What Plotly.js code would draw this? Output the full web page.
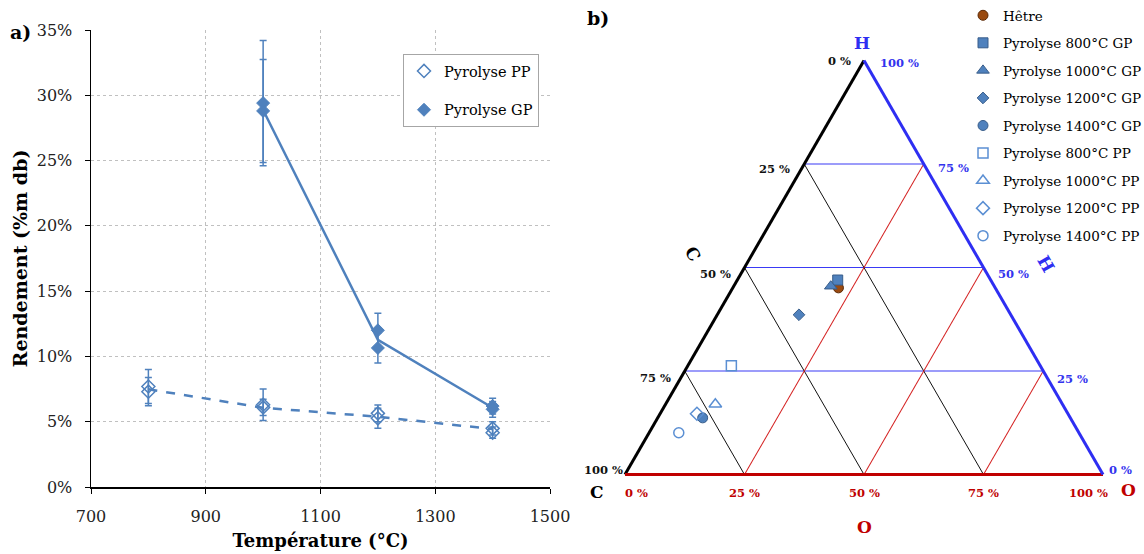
<!DOCTYPE html>
<html><head><meta charset="utf-8">
<script src="https://cdn.plot.ly/plotly-3.0.1.min.js"></script>
<style>html,body{margin:0;padding:0;background:#fff;overflow:hidden;width:1144px;height:554px}#chart{width:1144px;height:554px;overflow:hidden}</style>
</head><body><div id="chart"></div>
<script>
// ---------- Panel a) : yield vs temperature ----------
const temp_pp = [800, 1000, 1200, 1400];
const yield_pp_mean = [7.48, 6.07, 5.38, 4.44];
const temp_gp = [1000, 1200, 1400];
const yield_gp_mean = [28.87, 11.27, 6.07];

const temp_pp_rep = [800, 800, 1000, 1000, 1200, 1200, 1400, 1400];
const yield_pp_rep = [7.7, 7.3, 6.3, 6.1, 5.64, 5.26, 4.49, 4.16];
const err_pp_rep = [1.3, 1.08, 1.2, 0.62, 0.64, 0.77, 0.51, 0.43];

const temp_gp_rep = [1000, 1000, 1200, 1200, 1400, 1400];
const yield_gp_rep = [29.4, 28.8, 12.0, 10.65, 6.2, 5.95];
const err_gp_rep = [4.8, 3.95, 1.3, 1.15, 0.6, 0.6];

const xTicks = [700, 900, 1100, 1300, 1500];
const yTicks = [0, 5, 10, 15, 20, 25, 30, 35];
const yTickLabels = ['0%', '5%', '10%', '15%', '20%', '25%', '30%', '35%'];

// ---------- Panel b) : ternary C-H-O diagram (%) ----------
const samples = ['Hêtre', 'Pyrolyse 800°C GP', 'Pyrolyse 1000°C GP', 'Pyrolyse 1200°C GP', 'Pyrolyse 1400°C GP',
                 'Pyrolyse 800°C PP', 'Pyrolyse 1000°C PP', 'Pyrolyse 1200°C PP', 'Pyrolyse 1400°C PP'];
const H_pct = [45.1, 47.0, 45.5, 38.6, 13.7, 26.3, 17.0, 14.7, 10.1];
const C_pct = [32.8, 32.0, 34.2, 44.3, 76.9, 64.6, 72.6, 77.6, 83.7];
const O_pct = [22.1, 21.0, 20.3, 17.1, 9.4, 9.1, 10.4, 7.7, 6.2];
const ternTickVals = [0, 25, 50, 75, 100];
const ternTickText = ['0 %', '25 %', '50 %', '75 %', '100 %'];

// ---------- styles ----------
const BLUE = '#4F81BD';
const DARKBLUE = '#385D8A';
const OPENBLUE = '#5B8FD3';
const SERIF = 'DejaVu Serif';
const TBLUE = '#3333EE';
const TRED = '#C00000';
const symbols = ['circle', 'square', 'triangle-up', 'diamond', 'circle',
                 'square-open', 'triangle-up-open', 'diamond-open', 'circle-open'];
const fills = ['#9A4A10', BLUE, BLUE, BLUE, BLUE, OPENBLUE, OPENBLUE, OPENBLUE, OPENBLUE];
const outlines = ['#5C2A06', DARKBLUE, DARKBLUE, DARKBLUE, DARKBLUE, OPENBLUE, OPENBLUE, OPENBLUE, OPENBLUE];
const sizes = [10, 10, 11, 9, 10, 10, 11, 10, 10];

const traces = [];
traces.push({
  x: temp_pp, y: yield_pp_mean, mode: 'lines', type: 'scatter', showlegend: false,
  line: {color: BLUE, width: 2.5, dash: 'dash'}, hoverinfo: 'skip'
});
traces.push({
  x: temp_gp, y: yield_gp_mean, mode: 'lines', type: 'scatter', showlegend: false,
  line: {color: BLUE, width: 2.5}, hoverinfo: 'skip'
});
traces.push({
  x: temp_pp_rep, y: yield_pp_rep, mode: 'markers', type: 'scatter', name: 'Pyrolyse PP',
  legend: 'legend', legendgroup: 'pp',
  marker: {symbol: 'diamond-open', size: 10, color: BLUE, line: {width: 1.5, color: BLUE}},
  error_y: {type: 'data', array: err_pp_rep, visible: true, color: BLUE, thickness: 1.5, width: 3.5}
});
traces.push({
  x: temp_gp_rep, y: yield_gp_rep, mode: 'markers', type: 'scatter', name: 'Pyrolyse GP',
  legend: 'legend', legendgroup: 'gp',
  marker: {symbol: 'diamond', size: 10, color: BLUE, line: {width: 1, color: BLUE}},
  error_y: {type: 'data', array: err_gp_rep, visible: true, color: BLUE, thickness: 1.5, width: 3.5}
});

for (let i = 0; i < samples.length; i++) {
  const open = symbols[i].endsWith('-open');
  traces.push({
    type: 'scatterternary', mode: 'markers', name: samples[i],
    a: [H_pct[i]], b: [C_pct[i]], c: [O_pct[i]],
    subplot: 'ternary', legend: 'legend2', legendgroup: 'g' + i,
    cliponaxis: false,
    marker: {symbol: symbols[i], size: sizes[i], color: fills[i],
             line: {width: open ? 1.5 : 1, color: outlines[i]}}
  });
}

// ternary geometry (same numbers feed the ternary domain)
const W = 1144, HGT = 554;
const TRI_CX = 864, TRI_W = 478, TRI_DOMY = [0.127, 0.907];
const TRI_H = TRI_W * Math.sqrt(3) / 2;
const TRI_CY = HGT * (1 - (TRI_DOMY[0] + TRI_DOMY[1]) / 2);
const T_LEFT = TRI_CX - TRI_W / 2, T_RIGHT = TRI_CX + TRI_W / 2;
const T_BOTTOM = TRI_CY + TRI_H / 2;

const ternAxis = (lineColor, gridColor) => ({
  title: {text: ''},
  tickmode: 'array', tickvals: ternTickVals,
  ticks: '', showticklabels: false,
  showline: true, linecolor: lineColor, linewidth: 3,
  showgrid: true, gridcolor: gridColor, gridwidth: 1,
  min: 0, layer: 'below traces'
});

const ann = (text, px, py, size, color, angle, xanchor) => ({
  text: text, x: px / W, y: 1 - py / HGT, xref: 'paper', yref: 'paper',
  xanchor: xanchor || 'center', yanchor: 'middle', showarrow: false, textangle: angle || 0,
  font: {family: SERIF, size: size, color: color}
});

const annotations = [
  ann('<b>a)</b>', 20, 32, 19, '#000'),
  ann('<b>b)</b>', 598, 18, 19, '#000'),
  ann('<b>H</b>', 862, 43, 17, '#2E2EF2'),
  ann('<b>C</b>', 597, 492, 17, '#000'),
  ann('<b>O</b>', 1128, 490, 17, TRED),
  ann('<b>O</b>', 864, 527, 17, TRED),
  ann('<b>C</b>', 693, 254, 17, '#000', 60),
  ann('<b>H</b>', 1046, 264, 17, '#2E2EF2', 60)
];

// ternary tick labels, placed along the edges as in the original figure
const leftDx = [-11, -12, -12, -12, 0], leftDy = [0, 5, 6, 7, -5];
const rightDx = [3.5, 12, 12.5, 12.7, 13.5], rightDy = [-5, 8, 6, 4, 2];
const botDx = [11, 0, 0, 0, -15];
for (let k = 0; k < ternTickVals.length; k++) {
  const v = ternTickVals[k] / 100;
  // left edge: C value, H = 1 - C
  const hL = 1 - v;
  annotations.push(ann('<b>' + ternTickText[k] + '</b>', T_LEFT + TRI_W / 2 * hL + leftDx[k],
                       T_BOTTOM - TRI_H * hL + leftDy[k], 11.5, '#111', 0, 'right'));
  // right edge: H value
  annotations.push(ann('<b>' + ternTickText[k] + '</b>', T_RIGHT - TRI_W / 2 * v + rightDx[k],
                       T_BOTTOM - TRI_H * v + rightDy[k], 11.5, TBLUE, 0, 'left'));
  // bottom edge: O value
  annotations.push(ann('<b>' + ternTickText[k] + '</b>', T_LEFT + TRI_W * v + botDx[k],
                       T_BOTTOM + 18, 11.5, TRED, 0, 'center'));
}

const layout = {
  width: W, height: HGT, autosize: false,
  margin: {l: 0, r: 0, t: 0, b: 0, autoexpand: false},
  paper_bgcolor: '#fff', plot_bgcolor: '#fff',
  font: {family: SERIF, color: '#000'},
  xaxis: {
    domain: [91 / W, 550 / W], range: [700, 1500],
    tickmode: 'array', tickvals: xTicks,
    ticks: 'outside', ticklen: 5, tickcolor: '#000', tickwidth: 1,
    ticklabelstandoff: 9,
    showline: true, linecolor: '#000', linewidth: 1.5,
    showgrid: true, gridcolor: '#C0C0C0', griddash: 'dot', gridwidth: 1,
    zeroline: false, automargin: false,
    tickfont: {family: SERIF, size: 16, color: '#222'},
    title: {text: 'Température (°C)', font: {family: SERIF, size: 18, weight: 'bold'}, standoff: 9}
  },
  yaxis: {
    domain: [(HGT - 487) / HGT, (HGT - 30) / HGT], range: [0, 35],
    tickmode: 'array', tickvals: yTicks, ticktext: yTickLabels,
    ticks: 'outside', ticklen: 5, tickcolor: '#000', tickwidth: 1,
    ticklabelstandoff: 9,
    showline: true, linecolor: '#000', linewidth: 1.5,
    showgrid: true, gridcolor: '#C0C0C0', griddash: 'dot', gridwidth: 1,
    zeroline: false, automargin: false,
    tickfont: {family: SERIF, size: 16, color: '#222'},
    title: {text: 'Rendement (%m db)', font: {family: SERIF, size: 19, weight: 'bold'}, standoff: 4}
  },
  legend: {
    x: 403 / W, y: 1 - 54 / HGT, xanchor: 'left', yanchor: 'top',
    bgcolor: '#fff', bordercolor: '#A6A6A6', borderwidth: 1,
    font: {family: SERIF, size: 14.5, color: '#000'},
    traceorder: 'grouped', tracegroupgap: 17
  },
  legend2: {
    x: 963 / W, y: 1, xanchor: 'left', yanchor: 'top',
    bgcolor: 'rgba(0,0,0,0)', borderwidth: 0,
    font: {family: SERIF, size: 13.5, color: '#000'},
    traceorder: 'grouped', tracegroupgap: 7
  },
  ternary: {
    domain: {x: [T_LEFT / W, T_RIGHT / W], y: TRI_DOMY},
    sum: 100, bgcolor: '#fff',
    aaxis: ternAxis('#000', '#3A3AF5'),
    baxis: ternAxis(TRED, '#111'),
    caxis: ternAxis('#2E2EF2', '#D42020')
  },
  annotations: annotations
};

Plotly.newPlot('chart', traces, layout, {staticPlot: true, displayModeBar: false});
</script>
</body></html>
